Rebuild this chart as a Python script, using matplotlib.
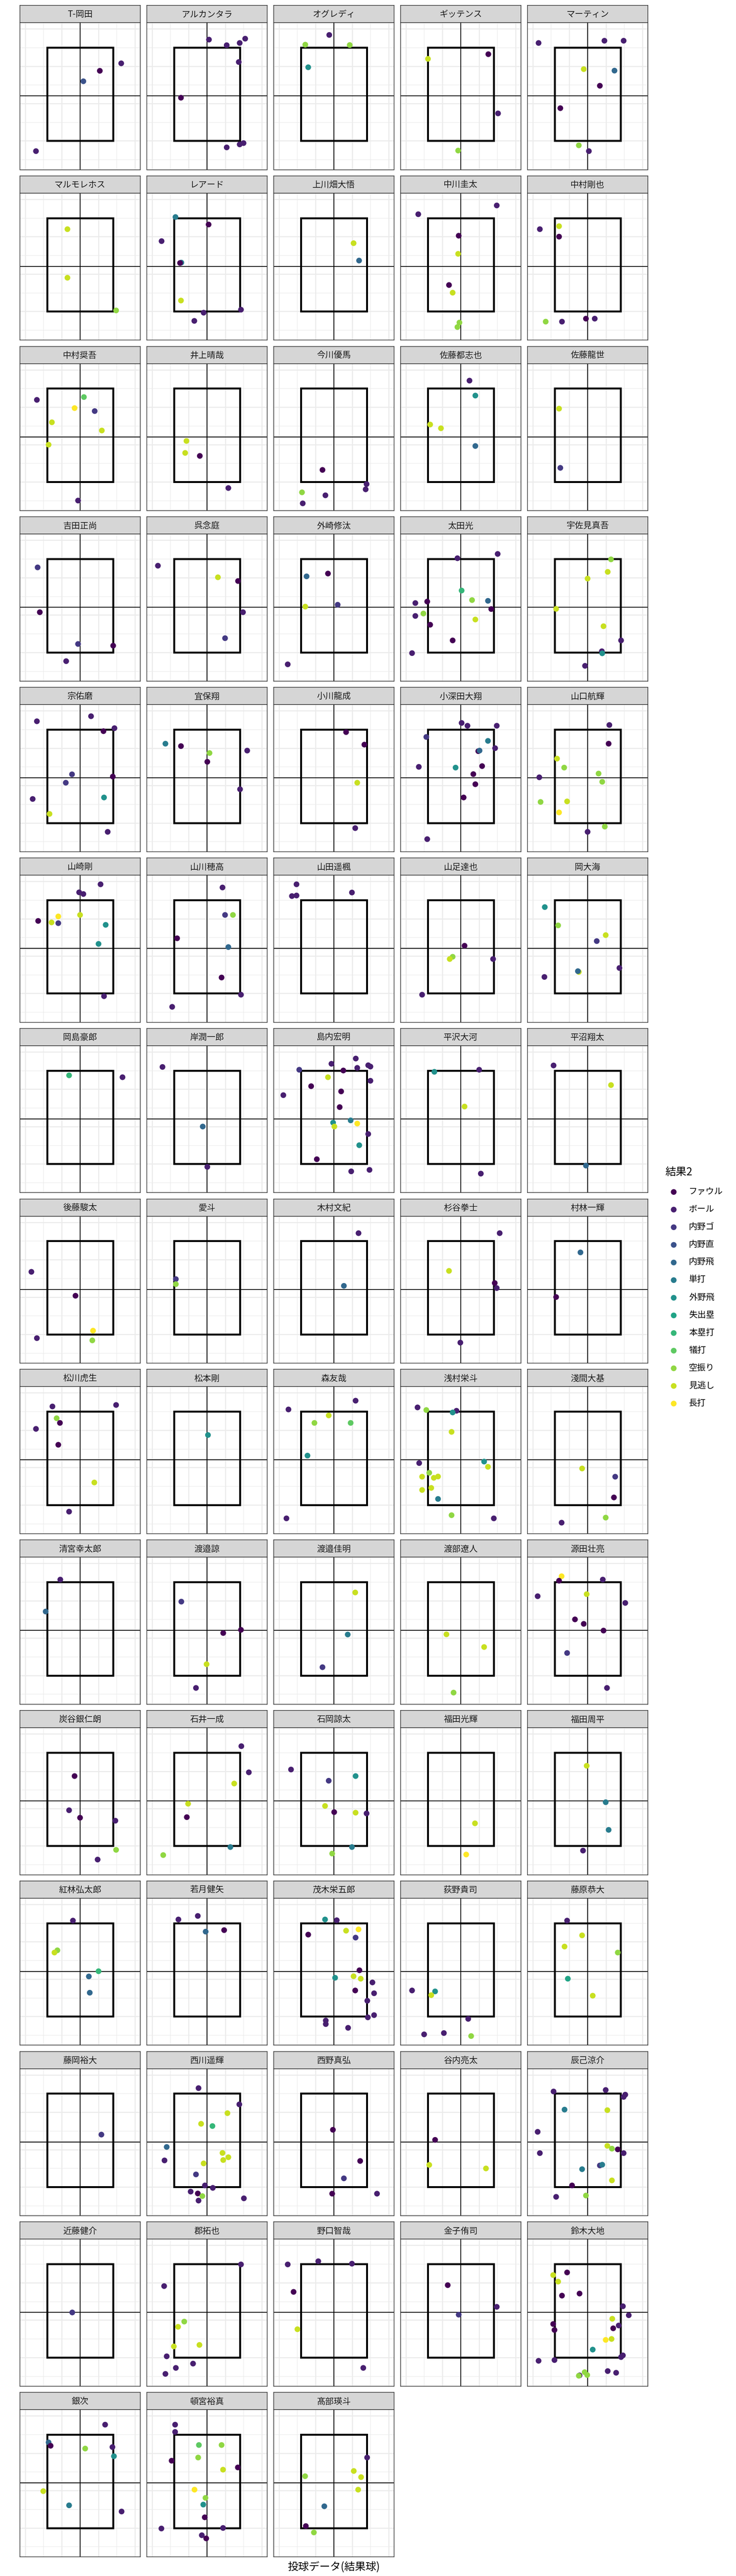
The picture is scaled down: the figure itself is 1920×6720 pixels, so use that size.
import matplotlib
matplotlib.use("Agg")
import matplotlib.pyplot as plt
from matplotlib.patches import Rectangle
import numpy as np

plt.rcParams['font.family'] = ['Noto Sans CJK JP', 'DejaVu Sans']

# 結果2 の区分 (凡例の順)
results = ["ファウル", "ボール", "内野ゴ", "内野直", "内野飛", "単打", "外野飛",
           "失出塁", "本塁打", "犠打", "空振り", "見逃し", "長打"]

players = ["T-岡田", "アルカンタラ", "オグレディ", "ギッテンス", "マーティン",
           "マルモレホス", "レアード", "上川畑大悟", "中川圭太", "中村剛也",
           "中村奨吾", "井上晴哉", "今川優馬", "佐藤都志也", "佐藤龍世",
           "吉田正尚", "呉念庭", "外崎修汰", "太田光", "宇佐見真吾",
           "宗佑磨", "宜保翔", "小川龍成", "小深田大翔", "山口航輝",
           "山崎剛", "山川穂高", "山田遥楓", "山足達也", "岡大海",
           "岡島豪郎", "岸潤一郎", "島内宏明", "平沢大河", "平沼翔太",
           "後藤駿太", "愛斗", "木村文紀", "杉谷拳士", "村林一輝",
           "松川虎生", "松本剛", "森友哉", "浅村栄斗", "淺間大基",
           "清宮幸太郎", "渡邉諒", "渡邉佳明", "渡部遼人", "源田壮亮",
           "炭谷銀仁朗", "石井一成", "石岡諒太", "福田光輝", "福田周平",
           "紅林弘太郎", "若月健矢", "茂木栄五郎", "荻野貴司", "藤原恭大",
           "藤岡裕大", "西川遥輝", "西野真弘", "谷内亮太", "辰己涼介",
           "近藤健介", "郡拓也", "野口智哉", "金子侑司", "鈴木大地",
           "銀次", "頓宮裕真", "髙部瑛斗"]

# 投球位置 横 (ゾーン中心 = 0)
loc_x = [
    [2.25, 1.08, 0.18, -2.41],
    [0.11, 1.08, 1.79, 2.09, 1.74, -1.42, 1.08, 1.79, 2.0],
    [-0.25, -1.56, 0.87, -1.4],
    [1.51, -1.79, 2.04, -0.14],
    [-2.68, 0.92, 1.97, -0.21, 1.47, 0.67, -1.49, -0.48, 0.07],
    [-0.69, -0.69, 1.97],
    [-1.72, 0.09, -2.48, -1.4, -1.47, -1.42, 1.86, -0.18, -0.69],
    [1.08, 1.38],
    [1.97, -2.32, -0.11, -0.14, -0.64, -0.44, -0.07, -0.18],
    [-2.61, -1.56, -1.56, -2.29, -1.4, -0.09, 0.39],
    [-2.36, 0.21, -0.3, 0.8, -1.54, 1.19, -1.72, -0.11],
    [-1.12, -1.19, -0.39, 1.17],
    [-0.62, 1.79, 1.74, -1.74, -0.46, -1.7],
    [0.48, 0.8, -1.67, -1.08, 0.8],
    [-1.56, -1.49],
    [-2.32, -2.2, -0.11, 1.81, -0.76],
    [-2.68, 0.6, 1.7, 1.97, 0.99],
    [-1.49, -0.32, -1.56, 0.21, -2.52],
    [-0.18, 2.02, 0.05, 0.62, 1.49, -2.48, -1.83, 1.67, -2.04, -2.48, 0.8, -1.67, -0.44, -2.66],
    [1.28, 1.1, 0.0, -1.72, 0.87, 1.83, 0.78, 0.8, -0.14],
    [-2.36, 0.6, 1.28, 1.88, -0.44, 1.79, -0.78, -2.59, 1.31, -1.67, 1.51],
    [-2.27, -1.42, 0.14, 0.02, 2.2, 1.81],
    [0.67, 1.67, 1.28, 1.17],
    [0.05, 0.37, 1.97, -1.88, 1.49, 0.96, 1.03, 1.88, -2.29, -0.28, 1.17, 0.69, 0.8, 0.16, -1.83],
    [1.19, 1.15, -1.67, -1.28, 0.6, 0.8, -2.64, -2.57, -1.12, -1.56, 0.0, 0.94],
    [1.12, -0.05, 0.18, -2.29, -1.19, -1.56, -1.19, 0.0, 1.4, 1.01, 1.31],
    [0.85, 0.99, 1.42, -1.63, 1.17, 0.8, 1.86, -1.9],
    [-2.04, -2.29, -2.04, 0.99],
    [0.21, -0.44, -0.6, 1.77, -2.11],
    [-2.34, -1.61, 0.99, 0.5, -2.36, -0.48, -0.53, 1.74],
    [-0.6, 2.32],
    [-2.43, -0.23, 0.02],
    [1.2, -0.13, -1.89, 0.52, 1.28, 1.88, 2.0, -0.32, 2.0, -1.24, -2.76, 0.4, 0.32, 0.92, -0.04, 0.03, 1.28, 1.88, 1.39, -0.93, 0.95, 1.95],
    [-1.44, 1.01, 0.21, 1.1],
    [-1.86, 1.28, -0.09],
    [-2.66, -0.25, -2.36, 0.71, 0.67],
    [-1.7, -1.7],
    [1.35, 0.55],
    [2.13, -0.64, 1.86, 1.97, -0.02],
    [-0.39, -1.72],
    [-1.51, 1.97, -1.28, -1.1, -2.41, -1.19, 0.78, -0.6],
    [0.05],
    [1.19, -2.48, -0.28, -1.06, 0.92, -1.44, -2.59],
    [-2.36, -1.88, -0.23, -0.44, -0.5, 1.28, 1.49, -2.27, -1.72, -2.11, -1.47, -1.24, -2.11, -1.61, -1.24, -0.5, 1.81],
    [-0.3, 1.51, 1.44, -1.42, 0.99],
    [-1.08, -1.88],
    [-1.4, 0.89, 1.86, -0.02, -0.6],
    [1.17, 0.76, -0.62],
    [-0.78, 1.28, -0.39],
    [-1.42, -1.56, 0.83, -2.73, -0.05, 2.06, -0.69, -0.21, 0.87, -1.12, 1.06],
    [-0.3, -0.6, 0.0, 1.93, 1.97, 0.96],
    [1.88, 2.29, 1.49, -1.03, -1.1, 1.28, -2.39],
    [-2.34, -0.28, 1.19, -0.48, 0.02, 1.19, 1.79, 0.99, -0.09],
    [0.78, 0.3],
    [-0.05, 0.99, 1.15, -0.25],
    [-0.39, -1.24, -1.4, 1.01, 0.48, 0.53],
    [-1.56, -0.5, -0.07, 0.94],
    [-0.48, 0.16, -1.4, 0.67, 1.35, 1.19, 1.4, 0.07, 1.08, 1.47, 2.11, 1.17, 2.2, 1.83, 1.86, 2.2, -0.44, -0.44, 0.78],
    [-2.66, -1.4, -1.61, 0.41, -2.0, -0.92, 0.57],
    [-1.12, -0.3, -1.26, 1.65, -1.08, 0.28],
    [1.15],
    [-0.46, 1.77, 1.12, -0.32, 0.3, -2.2, -2.32, 0.85, 1.17, 0.89, -0.18, -0.6, -0.11, 0.32, -0.89, -0.5, -0.25, -0.46, 2.02],
    [-0.05, 1.44, 0.55, -0.09, 2.36],
    [-1.4, -1.72, 1.38],
    [-1.86, 0.99, 2.06, 1.97, -1.26, 1.08, -2.73, -2.61, 1.08, 1.33, 1.65, 1.97, -0.3, 0.67, 0.8, 1.33, -0.85, -1.72, -0.09],
    [-0.44],
    [1.86, -2.34, -1.24, -1.58, -1.81, -0.41, -2.2, -0.76, -1.7, -2.27],
    [-2.52, -0.85, 0.99, -2.2, -1.99, 1.61],
    [-0.71, 1.97, -0.11],
    [-1.12, -1.88, -1.61, -1.4, -0.44, 1.93, 2.25, 1.35, -1.88, -1.81, 1.4, 1.7, 0.99, 1.31, 0.28, 1.93, 1.83, -2.68, -1.81, -0.44, -0.48, -0.16, -0.02, 1.1, 1.56],
    [1.37, -1.72, -1.61, 0.28, 1.77, 1.85, -2.01, -0.6, 2.27],
    [-1.74, -1.74, -0.44, 0.8, -0.48, -1.93, 0.88, 1.69, -0.68, -0.08, -0.2, -0.12, -2.49, 0.88, -0.28, -0.04],
    [1.82, 1.09, 1.49, -1.57, 1.33, -0.52, -1.53, -1.09],
]

# 投球位置 高さ (ゾーン下端 = 0, 上端 = 5)
loc_y = [
    [4.15, 3.75, 3.19, -0.55],
    [5.42, 5.12, 5.24, 5.47, 4.22, 2.31, -0.35, -0.19, -0.12],
    [5.67, 5.15, 5.13, 3.94],
    [4.64, 4.39, 1.47, -0.52],
    [5.24, 5.36, 5.36, 3.84, 3.76, 2.95, 1.75, -0.24, -0.55],
    [4.4, 1.8, 0.05],
    [5.05, 4.65, 3.76, 2.61, 2.59, 0.58, 0.09, -0.07, -0.51],
    [3.65, 2.72],
    [5.67, 5.2, 4.05, 3.08, 1.41, 1.0, -0.6, -0.84],
    [4.4, 4.56, 4.0, -0.55, -0.55, -0.39, -0.39],
    [4.39, 4.54, 3.95, 3.79, 3.19, 2.75, 1.99, -1.0],
    [2.19, 1.55, 1.39, -0.33],
    [0.64, -0.12, -0.4, -0.56, -0.72, -1.15],
    [5.42, 4.62, 3.07, 2.87, 1.92],
    [3.92, 0.75],
    [4.55, 2.15, 0.45, 0.36, -0.47],
    [4.64, 4.02, 3.82, 2.15, 0.76],
    [4.07, 4.22, 2.45, 2.55, -0.64],
    [5.04, 5.27, 3.31, 2.8, 2.76, 2.64, 2.72, 2.32, 2.08, 1.95, 1.76, 1.48, 0.64, -0.04],
    [4.98, 4.31, 3.95, 2.33, 1.4, 0.64, 0.06, -0.05, -0.72],
    [5.44, 5.71, 4.91, 5.07, 2.6, 2.48, 2.15, 1.28, 1.36, 0.48, -0.48],
    [4.24, 4.11, 3.74, 3.27, 3.87, 1.8],
    [4.86, 4.19, 2.15, -0.28],
    [5.35, 5.2, 5.2, 4.6, 4.39, 3.84, 3.87, 4.0, 3.0, 2.96, 3.04, 2.61, 2.07, 1.36, -0.87],
    [5.24, 4.24, 3.44, 2.96, 2.64, 2.2, 2.44, 1.12, 1.15, 0.56, -0.48, -0.2],
    [5.84, 5.41, 5.32, 3.88, 4.12, 3.8, 3.76, 4.2, 3.67, 2.65, -0.15],
    [5.67, 4.2, 4.2, 2.95, 2.48, 0.85, -0.07, -0.72],
    [5.84, 5.21, 5.24, 5.4],
    [2.55, 1.96, 1.84, 1.84, -0.07],
    [4.62, 3.64, 3.12, 2.8, 0.88, 1.15, 1.19, 1.36],
    [4.74, 4.64],
    [5.19, 2.0, -0.16],
    [5.64, 5.36, 5.04, 5.0, 5.14, 5.28, 5.21, 4.64, 4.45, 4.16, 3.68, 3.88, 3.04, 2.33, 2.21, 2.0, 2.16, 1.6, 1.0, 0.25, -0.4, -0.32],
    [4.93, 5.04, 3.07, -0.52],
    [5.27, 4.22, -0.09],
    [3.35, 2.07, -0.2, 0.2, -0.32],
    [2.96, 2.69],
    [5.42, 2.6],
    [5.42, 3.4, 2.75, 2.48, -0.44],
    [4.39, 2.0],
    [5.27, 5.35, 4.64, 4.39, 4.07, 3.22, 1.2, -0.36],
    [3.75],
    [5.58, 5.11, 4.79, 4.39, 4.39, 2.64, -0.72],
    [5.22, 5.08, 5.04, 4.95, 3.91, 2.32, 2.04, 2.24, 1.72, 1.51, 1.45, 1.52, 0.8, 0.91, 0.32, -0.55, -0.72],
    [1.95, 1.51, 0.4, -0.95, -0.68],
    [5.13, 3.42],
    [3.95, 2.27, 2.44, 0.6, -0.67],
    [4.44, 2.19, 0.44],
    [2.2, 1.52, -0.92],
    [5.31, 5.07, 5.13, 4.24, 4.35, 3.88, 3.0, 2.76, 2.4, 1.2, -0.67],
    [3.74, 1.91, 1.51, 1.35, -0.21, -0.73],
    [5.34, 3.94, 3.34, 2.26, 1.54, -0.06, -0.49],
    [4.09, 3.49, 3.74, 2.14, 1.81, 1.78, 1.74, -0.06, -0.41],
    [1.21, -0.46],
    [4.29, 2.34, 0.86, -0.25],
    [5.13, 3.54, 3.42, 2.42, 2.14, 1.27],
    [5.19, 5.38, 4.54, 4.62],
    [5.19, 5.15, 4.38, 4.59, 4.66, 4.22, 2.47, 2.07, 2.15, 2.02, 1.82, 1.39, 1.24, 0.84, -0.05, 0.07, -0.22, -0.41, -0.61],
    [1.39, 1.34, 1.14, -0.13, -0.96, -0.89, -1.05],
    [5.13, 4.34, 3.74, 3.42, 2.02, 1.11],
    [2.82],
    [5.29, 4.42, 3.95, 3.38, 3.26, 2.14, 1.42, 1.82, 1.59, 1.44, 1.26, 0.67, 0.08, -0.05, -0.25, -0.35, -0.49, -0.73, -0.61],
    [3.06, 1.39, 0.46, -0.36, -0.36],
    [2.52, 1.18, 0.99],
    [5.11, 5.19, 4.94, 4.82, 4.14, 4.11, 2.95, 1.81, 2.2, 2.05, 2.01, 1.81, 0.95, 1.15, 1.19, 0.35, 0.08, -0.53, -0.46],
    [2.42],
    [4.98, 3.82, 1.92, 1.64, 0.59, 0.67, 0.06, -0.33, -0.56, -0.88],
    [4.98, 5.15, 5.02, 3.51, 1.51, -0.56],
    [3.87, 2.71, 2.29],
    [4.55, 4.41, 4.06, 3.31, 3.42, 2.74, 2.26, 2.07, 1.79, 1.47, 1.56, 1.71, 0.94, 0.99, 0.42, 0.11, 0.02, -0.18, -0.14, -0.96, -0.98, -0.79, -0.94, -0.73, -0.82],
    [5.53, 4.58, 4.4, 4.25, 4.33, 3.84, 1.97, 1.21, 0.88],
    [5.53, 5.14, 4.44, 4.44, 3.77, 3.6, 3.12, 3.24, 2.05, 1.61, 1.25, 0.57, -0.03, 0.0, -0.39, -0.56],
    [3.77, 3.05, 2.72, 2.77, 2.05, 1.16, 0.1, -0.24],
]

# 結果 (results の番号)
outcome = [
    [1, 0, 3, 1],
    [1, 1, 1, 1, 1, 0, 1, 1, 1],
    [1, 10, 10, 6],
    [0, 11, 1, 10],
    [1, 1, 1, 11, 4, 0, 0, 10, 1],
    [11, 11, 10],
    [5, 0, 1, 5, 0, 11, 1, 1, 1],
    [11, 4],
    [1, 1, 0, 11, 0, 11, 10, 10],
    [1, 11, 0, 10, 1, 0, 1],
    [1, 9, 12, 2, 11, 11, 11, 1],
    [11, 11, 0, 1],
    [0, 1, 1, 10, 1, 1],
    [1, 6, 11, 11, 4],
    [11, 2],
    [2, 0, 2, 0, 1],
    [1, 11, 0, 1, 2],
    [4, 0, 11, 2, 1],
    [1, 1, 8, 10, 4, 1, 0, 0, 10, 1, 11, 0, 0, 1],
    [10, 11, 11, 11, 11, 1, 1, 6, 1],
    [1, 1, 0, 1, 2, 0, 2, 1, 6, 11, 1],
    [5, 0, 10, 0, 1, 1],
    [0, 0, 11, 1],
    [1, 1, 1, 2, 5, 0, 4, 1, 1, 6, 0, 0, 0, 0, 1],
    [1, 0, 11, 10, 10, 10, 1, 10, 11, 12, 1, 10],
    [1, 1, 1, 0, 12, 11, 2, 11, 6, 6, 1],
    [1, 2, 10, 0, 4, 0, 1, 1],
    [1, 1, 1, 1],
    [0, 10, 11, 1, 1],
    [6, 10, 11, 2, 1, 11, 4, 1],
    [8, 1],
    [1, 4, 1],
    [1, 1, 2, 0, 1, 1, 1, 11, 1, 0, 1, 0, 0, 5, 6, 11, 12, 1, 6, 0, 1, 1],
    [6, 1, 11, 1],
    [1, 11, 4],
    [1, 0, 1, 12, 10],
    [2, 10],
    [1, 4],
    [1, 11, 0, 1, 1],
    [4, 0],
    [1, 1, 10, 0, 1, 0, 11, 1],
    [6],
    [1, 1, 11, 10, 9, 6, 1],
    [1, 10, 1, 6, 11, 6, 11, 1, 10, 11, 11, 11, 11, 11, 5, 10, 1],
    [11, 2, 0, 1, 10],
    [1, 4],
    [2, 0, 0, 11, 1],
    [11, 5, 2],
    [11, 11, 10],
    [12, 0, 1, 1, 11, 1, 0, 0, 0, 2, 1],
    [0, 1, 0, 1, 10, 1],
    [1, 1, 11, 11, 0, 5, 10],
    [1, 2, 6, 11, 0, 11, 1, 5, 10],
    [11, 12],
    [11, 5, 5, 1],
    [1, 10, 11, 8, 4, 4],
    [1, 1, 4, 0],
    [6, 1, 0, 11, 12, 2, 0, 6, 11, 11, 1, 0, 1, 1, 1, 1, 1, 1, 1],
    [1, 6, 11, 1, 1, 1, 10],
    [1, 11, 11, 10, 7, 11],
    [2],
    [1, 1, 11, 11, 8, 4, 1, 11, 11, 11, 11, 2, 1, 1, 1, 0, 10, 1, 1],
    [0, 0, 2, 0, 1],
    [0, 11, 11],
    [1, 1, 1, 1, 5, 11, 1, 1, 11, 10, 0, 1, 5, 2, 5, 11, 0, 1, 10],
    [2],
    [1, 1, 10, 11, 11, 11, 1, 1, 1, 1],
    [1, 1, 1, 0, 11, 1],
    [0, 1, 2],
    [0, 11, 11, 0, 0, 1, 1, 11, 0, 0, 0, 1, 12, 11, 6, 1, 1, 1, 1, 1, 10, 10, 10, 1, 1],
    [1, 4, 0, 10, 1, 6, 11, 5, 1],
    [1, 1, 9, 10, 10, 0, 11, 0, 12, 10, 6, 0, 1, 1, 1, 0],
    [1, 11, 11, 10, 11, 4, 0, 10],
]

# ストライクゾーンと基準線
zone_x = (-1.8, 1.8)
zone_y = (0.0, 5.0)
mid_y = 2.41

for i in range(len(players)):
    assert len(loc_x[i]) == len(loc_y[i]) == len(outcome[i]), players[i]

W, H = 1920, 6720
fig = plt.figure(figsize=(W / 100, H / 100), dpi=100)
colors = plt.cm.viridis(np.linspace(0, 1, len(results)))


def box(x, y, w, h):
    # ピクセル位置 -> figure 座標
    return [x / W, 1 - (y + h) / H, w / W, h / H]


for i, name in enumerate(players):
    r, c = divmod(i, 5)
    left = 51.6 + 331 * c
    top = 14 + 444.8 * r

    st = fig.add_axes(box(left, top, 314.5, 45))
    st.set_facecolor('#D6D6D6')
    st.set_xticks([])
    st.set_yticks([])
    for s in st.spines.values():
        s.set_color('#333333')
        s.set_linewidth(1.2)
    st.text(0.5, 0.47, name, ha='center', va='center', fontsize=16,
            color='#1A1A1A', transform=st.transAxes)

    ax = fig.add_axes(box(left, top + 45, 314.5, 383.5))
    ax.set_xlim(-3.295, 3.295)
    ax.set_ylim(-1.54, 6.33)
    ax.set_xticks([-3, -1, 1, 3])
    ax.set_xticks([-2, 0, 2], minor=True)
    ax.set_yticks([0, 2, 4, 6])
    ax.set_yticks([-1, 1, 3, 5], minor=True)
    ax.tick_params(which='both', length=0, labelbottom=False, labelleft=False)
    ax.grid(which='major', color='#EBEBEB', lw=2.0)
    ax.grid(which='minor', color='#EBEBEB', lw=1.0)
    ax.set_axisbelow(True)
    for s in ax.spines.values():
        s.set_color('#333333')
        s.set_linewidth(1.2)

    ax.add_patch(Rectangle((zone_x[0], zone_y[0]), zone_x[1] - zone_x[0],
                           zone_y[1] - zone_y[0], fill=False, ec='black',
                           lw=3.6, zorder=2))
    ax.axvline(0, color='black', lw=1.5, zorder=2)
    ax.axhline(mid_y, color='black', lw=1.5, zorder=2)

    ax.scatter(loc_x[i], loc_y[i], c=colors[outcome[i]], s=115,
               linewidths=0, zorder=3)

# 凡例
lg = fig.add_axes([0, 0, 1, 1])
lg.set_xlim(0, W)
lg.set_ylim(H, 0)
lg.axis('off')
lg.text(1735, 3058, '結果2', fontsize=20, ha='left', va='center')
for k, lab in enumerate(results):
    yy = 3108.5 + 46 * k
    lg.scatter([1757], [yy], s=115, color=colors[k], linewidths=0)
    lg.text(1797, yy, lab, fontsize=16, ha='left', va='center')

fig.text(870 / W, 1 - 6697 / H, '投球データ(結果球)', ha='center',
         va='center', fontsize=20)

fig.savefig('out.png', dpi=100)
